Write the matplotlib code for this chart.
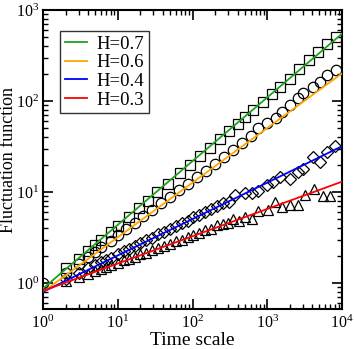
import numpy as np
import matplotlib.pyplot as plt
from matplotlib.ticker import LogLocator, NullFormatter

plt.rcParams['font.family'] = 'Liberation Serif'
plt.rcParams['mathtext.fontset'] = 'stix'

# Hurst exponents and fitted power-law lines  F(s) = c * s^H
hurst = [0.7, 0.6, 0.4, 0.3]
intercepts = [0.87, 0.8, 0.8, 0.82]
line_colors = ['#1fa01f', '#ffa500', '#0000ff', '#ff0000']
markers = ['s', 'o', 'D', '^']
line_x = [1, 1e4]

# H=0.7 (squares)
x_h07 = [2, 3, 4, 5, 6, 8, 10, 14, 19, 25, 34, 47, 67, 93, 126, 170, 230, 310,
         400, 500, 650, 870, 1150, 1500, 2000, 2700, 3600, 4800, 6300, 8300]
y_h07 = [1.46, 1.85, 2.25, 2.6, 2.95, 3.6, 4.2, 5.3, 6.6, 8.0, 9.9, 12.4, 16.0,
         20.0, 24.8, 30.5, 38, 47, 56, 66, 79, 97, 118, 142, 175, 225, 280,
         345, 425, 510]

# H=0.6 (circles)
x_h06 = [1, 2, 3, 4, 5, 6, 8, 10, 13, 17, 22, 29, 38, 50, 66, 87, 115, 150, 200,
         265, 350, 460, 600, 760, 1000, 1290, 1590, 2000, 2570, 3020, 4070,
         5100, 6300, 8300]
y_h06 = [1.0, 1.28, 1.63, 1.93, 2.2, 2.46, 2.93, 3.35, 3.92, 4.6, 5.4, 6.35,
         7.5, 8.8, 10.4, 12.3, 14.6, 17.2, 20.5, 24.3, 29, 34.5, 41, 50, 57,
         65, 75.5, 90, 108, 122, 142, 161, 193, 218]

# H=0.4 (diamonds)
x_h04 = [2, 3, 4, 5, 6, 7, 8, 10, 12, 14, 17, 20, 24, 29, 35, 42, 50, 60, 72,
         86, 103, 124, 149, 178, 214, 257, 308, 371, 501, 630, 760, 980, 1200,
         1480, 2000, 2570, 3020, 4070, 5100, 6300, 8100]
y_h04 = [1.12, 1.3, 1.45, 1.58, 1.7, 1.8, 1.9, 2.08, 2.24, 2.36, 2.57, 2.73,
         2.95, 3.15, 3.42, 3.65, 3.95, 4.2, 4.55, 4.85, 5.25, 5.6, 6.1, 6.5,
         6.95, 7.6, 7.8, 9.3, 9.7, 9.7, 10.2, 12.0, 12.9, 14.6, 13.9, 16.6,
         17.9, 24.3, 21.4, 27.5, 32]

# H=0.3 (triangles)
x_h03 = [2, 3, 4, 5, 6, 7, 8, 10, 12, 14, 17, 20, 24, 29, 35, 42, 50, 60, 72,
         86, 103, 124, 149, 178, 214, 257, 300, 350, 420, 500, 630, 760, 1030,
         1270, 1580, 2000, 2570, 3160, 4200, 5600, 7000]
y_h03 = [1.05, 1.15, 1.27, 1.35, 1.43, 1.5, 1.56, 1.66, 1.77, 1.84, 1.95, 2.06,
         2.15, 2.3, 2.42, 2.58, 2.7, 2.86, 3.0, 3.2, 3.38, 3.55, 3.8, 3.95,
         4.3, 4.4, 4.6, 5.05, 4.85, 5.3, 5.05, 6.2, 6.3, 7.8, 6.8, 7.2, 7.2,
         9.3, 10.8, 9.0, 9.0]

xs = [x_h07, x_h06, x_h04, x_h03]
ys = [y_h07, y_h06, y_h04, y_h03]
msizes = [7.5, 7.5, 6.0, 7.5]

fig = plt.figure(figsize=(3.54, 3.49), dpi=100)
ax = fig.add_axes([0.1215, 0.1146, 0.8446, 0.8567])

for i in range(4):
    ax.plot(xs[i], ys[i], linestyle='none', marker=markers[i], markersize=msizes[i],
            markerfacecolor='none', markeredgecolor='black', markeredgewidth=0.9,
            zorder=2)

for i in range(4):
    lx = np.array(line_x)
    ax.plot(lx, intercepts[i] * lx ** hurst[i], color=line_colors[i], lw=1.3,
            label='H=%.1f' % hurst[i], zorder=3)

ax.set_xscale('log')
ax.set_yscale('log')
ax.set_xlim(1, 1e4)
ax.set_ylim(0.518, 1000)

for a in (ax.xaxis, ax.yaxis):
    a.set_major_locator(LogLocator(base=10, numticks=10))
    a.set_minor_locator(LogLocator(base=10, subs=np.arange(2, 10), numticks=10))
    a.set_minor_formatter(NullFormatter())
ax.tick_params(which='both', direction='in', top=True, right=True, labelsize=11.5)
ax.tick_params(which='major', length=7, width=1.2)
ax.tick_params(which='minor', length=3.5, width=1.0)
ax.tick_params(axis='x', pad=4)
ax.tick_params(axis='y', pad=3)
for s in ax.spines.values():
    s.set_linewidth(1.5)

ax.set_xlabel('Time scale', fontsize=14, labelpad=0)
ax.set_ylabel('Fluctuation function', fontsize=13)
ax.yaxis.set_label_coords(-0.086, 0.5)

leg = ax.legend(loc='upper left', bbox_to_anchor=(0.057, 0.93), fontsize=13.5,
                frameon=True, fancybox=False, handlelength=1.2, handletextpad=0.5,
                labelspacing=0.08, borderpad=0.25, borderaxespad=0)
leg.get_frame().set_edgecolor('black')
leg.get_frame().set_linewidth(1.0)

fig.savefig('out.png', dpi=100)
